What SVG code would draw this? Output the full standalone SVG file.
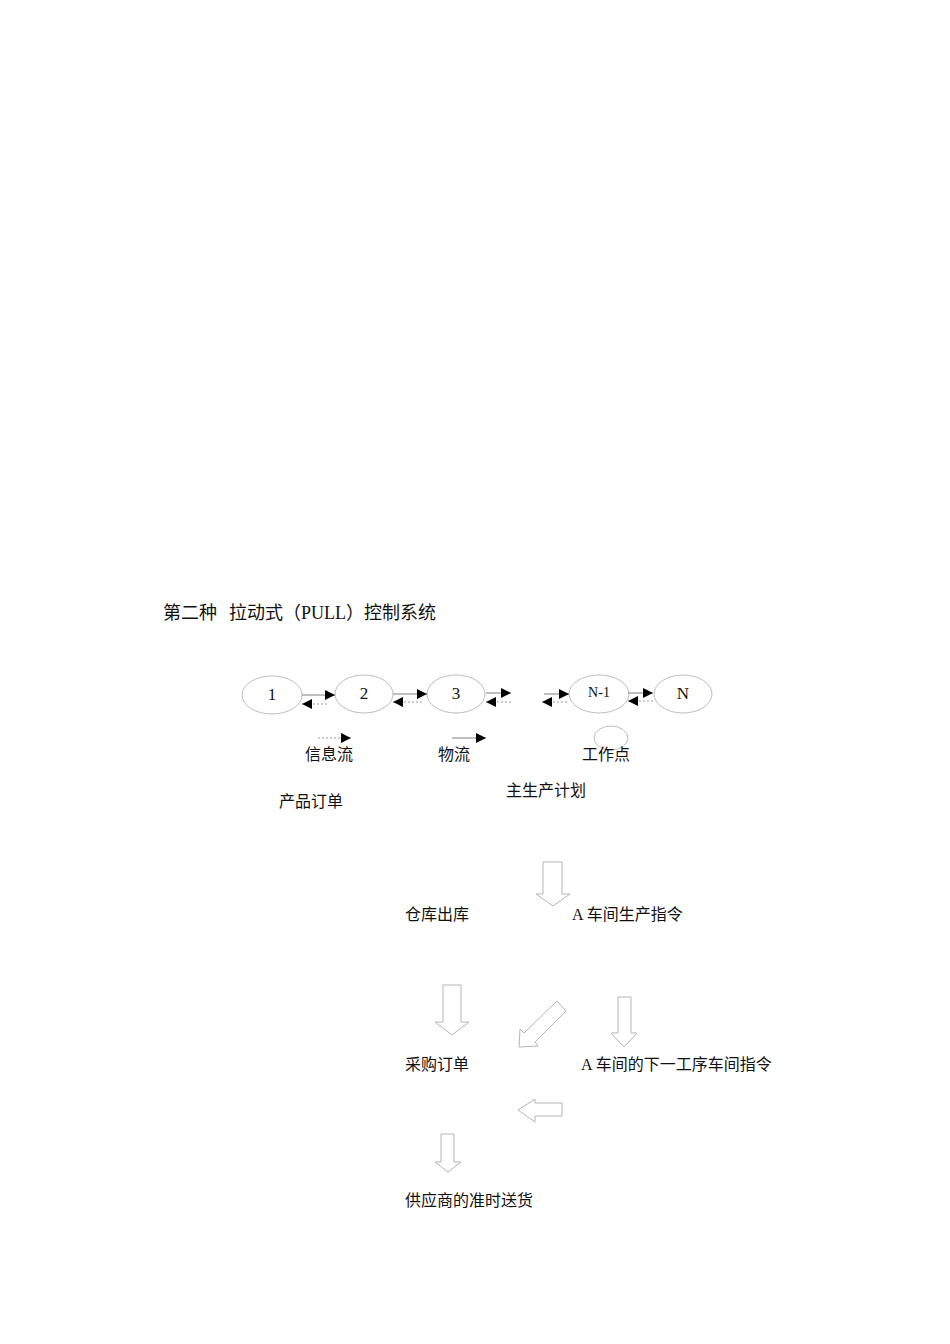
<svg xmlns="http://www.w3.org/2000/svg" width="950" height="1344" viewBox="0 0 950 1344">
<style>
.t{font-family:"Liberation Serif","Noto Sans CJK SC",serif;font-size:16px;fill:#111}
.title{font-size:18px}
.node{fill:#fff;stroke:#bdbdbd;stroke-width:1}
.lab{font-family:"Liberation Serif","Noto Sans CJK SC",serif;font-size:17px;fill:#111;text-anchor:middle}
.sol{stroke:#808080;stroke-width:1;fill:none}
.das{stroke:#9a9a9a;stroke-width:1;stroke-dasharray:2,2;fill:none}
.blk{fill:#fff;stroke:#b5b5b5;stroke-width:1}
</style>
<defs>
<marker id="ah" markerUnits="userSpaceOnUse" markerWidth="11" markerHeight="10" refX="10" refY="5" orient="auto">
<path d="M0,0 L10,5 L0,10 Z" fill="#000"/>
</marker>
</defs>
<rect width="950" height="1344" fill="#fff"/>
<text class="t title" x="163" y="619">第二种<tspan x="229">拉动式（PULL）控制系统</tspan></text>
<g id="node1"><ellipse class="node" cx="272" cy="695" rx="30" ry="19"/><text class="lab" x="272" y="700">1</text></g>
<g id="node2"><ellipse class="node" cx="364" cy="694" rx="29" ry="19"/><text class="lab" x="364" y="699">2</text></g>
<g id="node3"><ellipse class="node" cx="456" cy="694" rx="29" ry="19"/><text class="lab" x="456" y="699">3</text></g>
<g id="nodeN-1"><ellipse class="node" cx="599" cy="694" rx="30" ry="19"/><text class="lab" x="599" y="697" style="font-size:14px">N-1</text></g>
<g id="nodeN"><ellipse class="node" cx="683" cy="694" rx="29" ry="19"/><text class="lab" x="683" y="699">N</text></g>
<g id="connectors">
<line class="sol" x1="302" y1="695" x2="335" y2="695" marker-end="url(#ah)"/>
<line class="das" x1="327" y1="704" x2="302" y2="704" marker-end="url(#ah)"/>
<line class="sol" x1="393" y1="694" x2="427" y2="694" marker-end="url(#ah)"/>
<line class="das" x1="422" y1="702" x2="393" y2="702" marker-end="url(#ah)"/>
<line class="sol" x1="486" y1="693" x2="511" y2="693" marker-end="url(#ah)"/>
<line class="das" x1="511" y1="702" x2="486" y2="702" marker-end="url(#ah)"/>
<line class="sol" x1="544" y1="694" x2="569" y2="694" marker-end="url(#ah)"/>
<line class="das" x1="567" y1="702" x2="542" y2="702" marker-end="url(#ah)"/>
<line class="sol" x1="628" y1="693" x2="653" y2="693" marker-end="url(#ah)"/>
<line class="das" x1="653" y1="701" x2="628" y2="701" marker-end="url(#ah)"/>
</g>
<g id="legend">
<line class="das" x1="318" y1="738" x2="351" y2="738" marker-end="url(#ah)"/>
<text class="t" x="305" y="760">信息流</text>
<line class="sol" x1="452" y1="738" x2="486" y2="738" marker-end="url(#ah)"/>
<text class="t" x="438" y="760">物流</text>
<ellipse class="node" cx="611" cy="738" rx="17" ry="12"/>
<text class="t" x="582" y="760">工作点</text>
</g>
<g id="labels">
<text class="t" x="279" y="807">产品订单</text>
<text class="t" x="506" y="796">主生产计划</text>
<text class="t" x="405" y="920">仓库出库</text>
<text class="t" x="572" y="920">A 车间生产指令</text>
<text class="t" x="405" y="1070">采购订单</text>
<text class="t" x="581" y="1070">A 车间的下一工序车间指令</text>
<text class="t" x="405" y="1206">供应商的准时送货</text>
</g>
<g id="block-arrows">
<polygon class="blk" points="543,862 562,862 562,894 570,894 553,906 536,894 543,894"/>
<polygon class="blk" points="443,985 461,985 461,1022 469,1022 452,1035 435,1022 443,1022"/>
<polygon class="blk" points="557,1001 566,1011 535,1042 538,1046 519,1047 520,1029 524,1033"/>
<polygon class="blk" points="618,997 631,997 631,1033 637,1033 624,1047 611,1033 618,1033"/>
<polygon class="blk" points="562,1103 562,1116 535,1116 535,1122 518,1110 535,1099 535,1103"/>
<polygon class="blk" points="441,1134 454,1134 454,1162 461,1162 448,1172 435,1162 441,1162"/>
</g>
</svg>
